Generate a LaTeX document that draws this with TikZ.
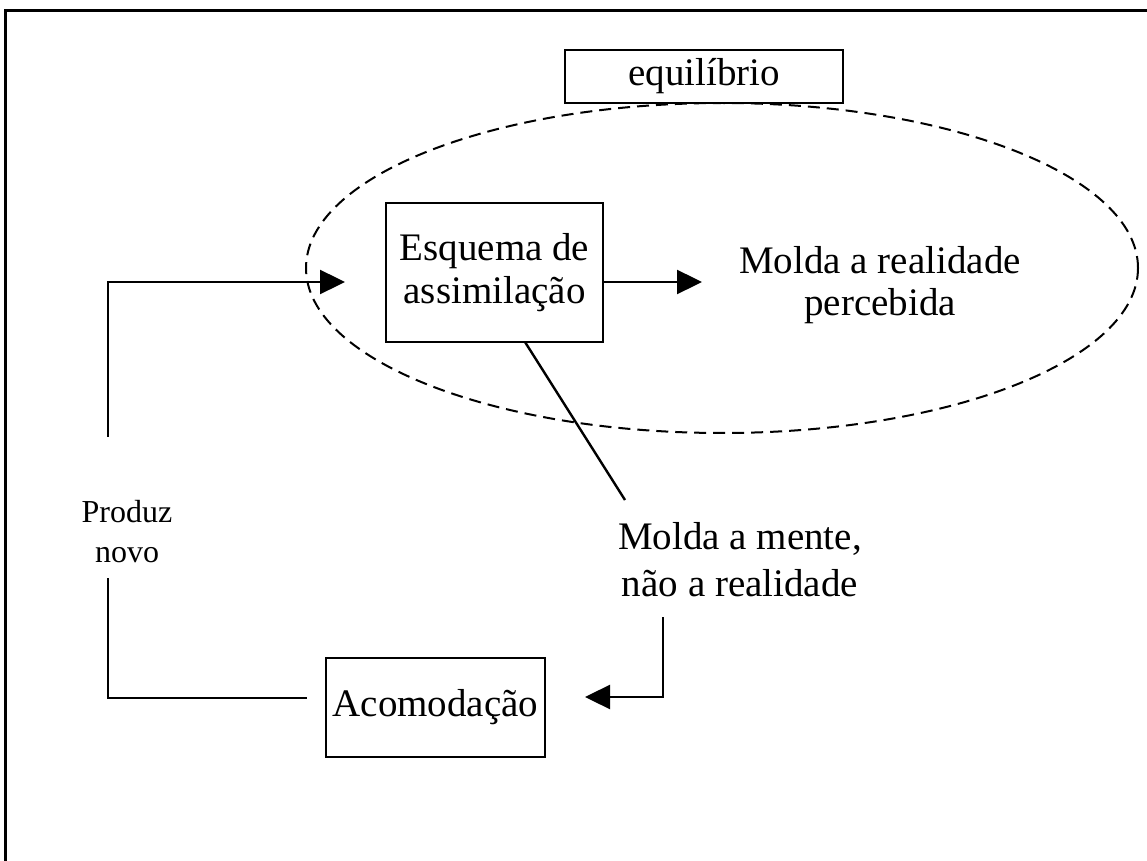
\documentclass[tikz,border=0pt]{standalone}
\usepackage{fontspec}
\setmainfont{Liberation Serif}
\usetikzlibrary{arrows.meta,shapes.geometric}
\begin{document}
\begin{tikzpicture}[x=0.5pt,y=-0.5pt,
  box/.style={draw,line width=1.2pt,fill=white,inner sep=0pt,align=center,
    font=\fontsize{19.5}{21.5}\selectfont},
  txt/.style={inner sep=0pt,align=center,font=\fontsize{19.5}{21}\selectfont},
  txtwide/.style={inner sep=0pt,align=center,font=\fontsize{19.5}{23.5}\selectfont},
  small/.style={inner sep=0pt,align=center,font=\fontsize{16}{20}\selectfont},
  conn/.style={line width=1.2pt},
  arr/.style={line width=1.2pt,-{Triangle[length=12.5pt,width=12pt]}}]
\useasboundingbox (0,0) rectangle (1147,861);
% frame (top and left edges)
\draw[line width=1.5pt] (5,861) -- (5,11) -- (1147,11);
% dashed ellipse
\node[ellipse,draw,line width=1pt,dash pattern=on 6pt off 3.5pt,
  minimum width=416pt,minimum height=165pt,inner sep=0pt] (eqell) at (722,268) {};
% boxes
\node[box,minimum width=139pt,minimum height=26.5pt] (equi) at (704,76.5) {equilíbrio};
\node[box,minimum width=108.5pt,minimum height=69.5pt] (esq) at (494.5,272.5) {Esquema de\\assimilação};
\node[box,minimum width=109.5pt,minimum height=49.5pt] (acom) at (435.5,707.5) {Acomodação};
% texts
\node[txt] (real) at (880,285) {Molda a realidade\\percebida};
\node[txtwide] (mente) at (740,560) {Molda a mente,\\não a realidade};
\node[small] (prod) at (127,532) {Produz\\novo};
% coordinates
\coordinate (inTip) at (345,282);
\coordinate (outTip) at (702,282);
\coordinate (outStart) at (esq.east |- outTip);
\coordinate (loopTop) at (108,282);
\coordinate (loopMidA) at (108,437);
\coordinate (loopMidB) at (108,578);
\coordinate (loopBot) at (108,698);
\coordinate (loopEnd) at (307,698);
\coordinate (diagA) at (525,342);
\coordinate (diagB) at (625,500);
\coordinate (mTop) at (663,617);
\coordinate (mCorner) at (663,697);
\coordinate (mTip) at (585,697);
% connectors
\draw[arr] (outStart) -- (outTip);
\draw[arr] (loopMidA) -- (loopTop) -- (inTip);
\draw[conn] (loopMidB) -- (loopBot) -- (loopEnd);
\draw[conn] (diagA) -- (diagB);
\draw[arr] (mTop) -- (mCorner) -- (mTip);
\end{tikzpicture}
\end{document}
